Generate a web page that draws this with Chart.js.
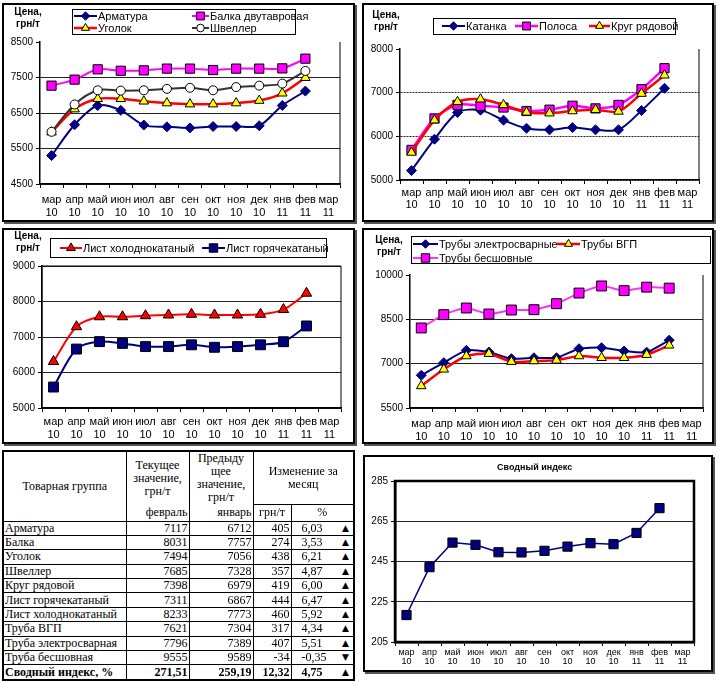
<!DOCTYPE html>
<html>
<head>
<meta charset="utf-8">
<script src="https://cdn.jsdelivr.net/npm/chart.js@4.4.0/dist/chart.umd.min.js"></script>
<style>
body { margin: 0; width: 720px; height: 683px; position: relative; background: #fff; overflow: hidden; font-family: Arial, "Liberation Sans", sans-serif; }
.frame { position: absolute; box-sizing: border-box; border: 2px solid #000; box-shadow: 2px 2px 0 #555; }
canvas { position: absolute; }
.unit { position: absolute; width: 44px; text-align: center; font-size: 10px; font-weight: bold; line-height: 12px; }
.title { position: absolute; font-size: 9px; font-weight: bold; }
#tbl { position: absolute; left: 2px; top: 450px; width: 353px; border-collapse: collapse; table-layout: fixed;
  font-family: "Liberation Serif", "Times New Roman", serif; font-size: 12px; border: 2px solid #000; }
#tbl td { border: 1px solid #000; padding: 0 1px; white-space: nowrap; line-height: 13px; overflow: hidden; }
#tbl td.c { text-align: center; }
#tbl td.r { text-align: right; }
#tbl td.nb { border-bottom: none; }
#tbl td.nt { border-top: none; }
#tbl tr.d td { height: 13.4px; }
#tbl tr.b td { font-weight: bold; }
.arr { float: right; font-size: 9px; padding-right: 3px; font-family: "DejaVu Sans", sans-serif; }
.pv { padding-left: 9px; }
</style>
</head>
<body>
<div class="frame" style="left:2px;top:3px;width:353px;height:219px"></div>
<div class="frame" style="left:362px;top:3px;width:352px;height:219px"></div>
<div class="frame" style="left:2px;top:228px;width:353px;height:216px"></div>
<div class="frame" style="left:362px;top:228px;width:352px;height:216px"></div>
<div class="frame" style="left:363px;top:455px;width:350px;height:217px"></div>

<canvas id="c1"></canvas>
<canvas id="c2"></canvas>
<canvas id="c3"></canvas>
<canvas id="c4"></canvas>
<canvas id="c6"></canvas>

<div class="unit" style="left:6px;top:6px">Цена,<br>грн/т</div>
<div class="unit" style="left:364px;top:9px">Цена,<br>грн/т</div>
<div class="unit" style="left:6px;top:230px">Цена,<br>грн/т</div>
<div class="unit" style="left:367px;top:234px">Цена,<br>грн/т</div>
<div class="title" style="left:497px;top:462px">Сводный индекс</div>

<table id="tbl">
  <colgroup><col style="width:123px"><col style="width:63px"><col style="width:64px"><col style="width:38px"><col style="width:63px"></colgroup>
  <tr style="height:52px">
    <td class="c" rowspan="2">Товарная группа</td>
    <td class="c nb">Текущее<br>значение,<br>грн/т</td>
    <td class="c nb">Предыду<br>щее<br>значение,<br>грн/т</td>
    <td class="c" colspan="2">Изменение за<br>месяц</td>
  </tr>
  <tr style="height:17px">
    <td class="r nt">февраль</td>
    <td class="r nt">январь</td>
    <td class="c">грн/т</td>
    <td class="c">%</td>
  </tr>
</table>

<script>
// Data

const months = [['мар', '10'], ['апр', '10'], ['май', '10'], ['июн', '10'], ['июл', '10'], ['авг', '10'],
    ['сен', '10'], ['окт', '10'], ['ноя', '10'], ['дек', '10'], ['янв', '11'], ['фев', '11'], ['мар', '11']];

const armatura = [5300, 6170, 6710, 6575, 6160, 6110, 6080, 6120, 6120, 6140, 6712, 7117];
const balka = [7270, 7440, 7730, 7690, 7700, 7750, 7750, 7710, 7750, 7750, 7757, 8031];
const ugolok = [5960, 6610, 6900, 6900, 6830, 6780, 6750, 6750, 6780, 6850, 7056, 7494];
const shveller = [5970, 6740, 7140, 7130, 7140, 7180, 7210, 7140, 7230, 7270, 7328, 7685];

const katanka = [5215, 5935, 6545, 6600, 6370, 6185, 6150, 6200, 6150, 6150, 6590, 7100];
const polosa = [5690, 6410, 6720, 6700, 6660, 6580, 6610, 6700, 6640, 6720, 7080, 7560];
const krug = [5630, 6370, 6790, 6850, 6720, 6550, 6530, 6580, 6610, 6570, 6979, 7398];

const listHolod = [6310, 7290, 7570, 7570, 7600, 7620, 7640, 7620, 7620, 7640, 7773, 8233];
const listGor = [5590, 6660, 6870, 6820, 6730, 6730, 6780, 6710, 6730, 6780, 6867, 7311];

const trubyElektro = [6606, 7034, 7450, 7394, 7169, 7200, 7200, 7506, 7540, 7428, 7389, 7796];
const trubyVgp = [6246, 6809, 7259, 7338, 7068, 7090, 7113, 7259, 7200, 7200, 7304, 7621];
const trubyBesh = [8208, 8658, 8883, 8680, 8815, 8826, 9029, 9389, 9629, 9471, 9589, 9555];

const indexVals = [218.4, 242.2, 254.4, 253.3, 249.6, 249.5, 250.3, 252.4, 254.1, 253.6, 259.19, 271.51];

const tableGroups = ['Арматура', 'Балка', 'Уголок', 'Швеллер', 'Круг рядовой', 'Лист горячекатаный',
    'Лист холоднокатаный', 'Труба ВГП', 'Труба электросварная', 'Труба бесшовная', 'Сводный индекс, %'];
const tableFeb = ['7117', '8031', '7494', '7685', '7398', '7311', '8233', '7621', '7796', '9555', '271,51'];
const tableJan = ['6712', '7757', '7056', '7328', '6979', '6867', '7773', '7304', '7389', '9589', '259,19'];
const tableDiff = ['405', '274', '438', '357', '419', '444', '460', '317', '407', '-34', '12,32'];
const tablePct = ['6,03', '3,53', '6,21', '4,87', '6,00', '6,47', '5,92', '4,34', '5,51', '-0,35', '4,75'];

// Table

const tbl = document.getElementById('tbl');
tableGroups.forEach((name, i) => {
    const tr = document.createElement('tr');
    tr.className = i === tableGroups.length - 1 ? 'd b' : 'd';
    const arrow = tablePct[i].startsWith('-') ? '▼' : '▲';
    tr.innerHTML = `<td>${name}</td><td class="r">${tableFeb[i]}</td><td class="r">${tableJan[i]}</td>` +
        `<td class="r">${tableDiff[i]}</td><td><span class="pv">${tablePct[i]}</span><span class="arr">${arrow}</span></td>`;
    tbl.appendChild(tr);
});

// Charts

const FONT = 'Arial, "Liberation Sans", sans-serif';
const NAVY = '#000080', MAG = '#FF00FF', RED = '#FF0000', YEL = '#FFFF00';

const ds = (label, data, color, width, style, bg, border, radius, tension) => ({
    label, data, borderColor: color, borderWidth: width, pointStyle: style, pointRadius: radius,
    pointBackgroundColor: bg, pointBorderColor: border, pointBorderWidth: 1, tension
});

function legendPlugin(g, box, items) {
    return {
        id: 'boxLegend',
        afterDraw(chart) {
            const ctx = chart.ctx;
            ctx.save();
            ctx.translate(-g.cx, -g.cy);
            ctx.fillStyle = '#fff';
            ctx.fillRect(box[0], box[1], box[2], box[3]);
            ctx.strokeStyle = '#000';
            ctx.lineWidth = 1;
            ctx.strokeRect(box[0] + 0.5, box[1] + 0.5, box[2], box[3]);
            ctx.font = '11px ' + FONT;
            ctx.textBaseline = 'middle';
            ctx.textAlign = 'left';
            items.forEach(it => {
                const d = chart.data.datasets.find(s => s.label === it.label);
                const [x, y, len] = it.at;
                ctx.strokeStyle = d.borderColor;
                ctx.lineWidth = d.borderWidth;
                ctx.beginPath();
                ctx.moveTo(x, y);
                ctx.lineTo(x + len, y);
                ctx.stroke();
                ctx.fillStyle = d.pointBackgroundColor;
                ctx.strokeStyle = d.pointBorderColor;
                ctx.lineWidth = 1;
                Chart.helpers.drawPoint(ctx, { pointStyle: d.pointStyle, radius: d.pointRadius * 0.85, borderWidth: 1, rotation: 0 }, x + len / 2, y);
                ctx.fillStyle = '#000';
                ctx.fillText(d.label, x + len + 1, y + 1);
            });
            ctx.restore();
        }
    };
}

function framePlugin(full, width) {
    return {
        id: 'plotFrame',
        beforeDatasetsDraw(chart) {
            const a = chart.chartArea, ctx = chart.ctx;
            ctx.save();
            ctx.strokeStyle = '#000';
            ctx.lineWidth = width;
            ctx.beginPath();
            if (full) {
                ctx.rect(a.left, a.top, a.right - a.left, a.bottom - a.top);
            } else {
                ctx.moveTo(a.right, a.top);
                ctx.lineTo(a.right, a.bottom);
            }
            ctx.stroke();
            ctx.restore();
        }
    };
}

function makeChart(id, g, datasets, y, plugins) {
    const el = document.getElementById(id);
    el.style.left = g.cx + 'px';
    el.style.top = g.cy + 'px';
    el.width = g.cw;
    el.height = g.ch;
    return new Chart(el, {
        type: 'line',
        data: { labels: months, datasets },
        options: {
            responsive: false,
            animation: false,
            events: [],
            layout: { padding: { left: 0, top: g.t - g.cy, right: g.cx + g.cw - g.r, bottom: 0 } },
            plugins: { legend: { display: false }, tooltip: { enabled: false } },
            scales: {
                x: {
                    offset: true,
                    grid: { offset: true, drawOnChartArea: false, drawTicks: true, tickLength: 4, color: '#000', tickColor: '#000' },
                    border: { color: '#000', width: g.bw },
                    ticks: { color: '#000', font: { family: FONT, size: g.xf, lineHeight: g.xlh }, padding: g.xp, maxRotation: 0, autoSkip: false },
                    afterFit: s => { s.height = g.cy + g.ch - g.b; }
                },
                y: {
                    min: y.min, max: y.max,
                    ticks: { stepSize: y.step, color: '#000', font: { family: FONT, size: 10 }, padding: 3, callback: v => String(v) },
                    grid: {
                        color: c => (c.tick && c.tick.value === y.max && !g.top) ? 'rgba(0,0,0,0)' : '#222',
                        tickColor: '#000', tickLength: 4, lineWidth: 1
                    },
                    border: { color: '#000', width: g.bw, dash: g.dash || [] },
                    afterFit: s => { s.width = g.l - g.cx; }
                }
            }
        },
        plugins
    });
}

// Panel 1
const g1 = { cx: 5, cy: 5, cw: 346, ch: 214, l: 40, t: 42, r: 340, b: 184, xf: 11, xlh: 1.15, xp: 6, bw: 1.5, top: false };
makeChart('c1', g1, [
    ds('Швеллер', shveller, '#333', 2, 'circle', '#fff', '#000', 4.5, 0.3),
    ds('Уголок', ugolok, RED, 2.5, 'triangle', YEL, '#000', 5.5, 0.3),
    ds('Арматура', armatura, NAVY, 2, 'rectRot', NAVY, NAVY, 5, 0.3),
    ds('Балка двутавровая', balka, MAG, 2, 'rect', MAG, '#000', 6.5, 0.3)
], { min: 4500, max: 8500, step: 1000 }, [
    framePlugin(false, 1),
    legendPlugin(g1, [72, 9, 223, 25], [
        { label: 'Арматура', at: [74, 16, 23] },
        { label: 'Уголок', at: [74, 28, 23] },
        { label: 'Балка двутавровая', at: [192, 16, 17] },
        { label: 'Швеллер', at: [192, 28, 17] }
    ])
]);

// Panel 2
const g2 = { cx: 365, cy: 5, cw: 346, ch: 214, l: 400, t: 49, r: 699, b: 180, xf: 11, xlh: 1.1, xp: 3, bw: 1.5, top: false, dash: [2, 1] };
makeChart('c2', g2, [
    ds('Круг рядовой', krug, RED, 2.5, 'triangle', YEL, '#000', 5.5, 0.3),
    ds('Полоса', polosa, MAG, 2.5, 'rect', MAG, '#000', 6.5, 0.3),
    ds('Катанка', katanka, NAVY, 2, 'rectRot', NAVY, NAVY, 5, 0.3)
], { min: 5000, max: 8000, step: 1000 }, [
    framePlugin(false, 1),
    legendPlugin(g2, [433, 18, 242, 16], [
        { label: 'Катанка', at: [442, 26, 23] },
        { label: 'Полоса', at: [515, 26, 23] },
        { label: 'Круг рядовой', at: [589, 26, 21] }
    ])
]);

// Panel 3
const g3 = { cx: 5, cy: 231, cw: 346, ch: 210, l: 42, t: 266, r: 341, b: 408, xf: 11, xlh: 1.15, xp: 4, bw: 1.5, top: true };
makeChart('c3', g3, [
    ds('Лист холоднокатаный', listHolod, RED, 2, 'triangle', RED, '#000', 6, 0.3),
    ds('Лист горячекатаный', listGor, NAVY, 2, 'rect', NAVY, '#000', 7, 0.3)
], { min: 5000, max: 9000, step: 1000 }, [
    framePlugin(true, 1),
    legendPlugin(g3, [50, 238, 276, 19], [
        { label: 'Лист холоднокатаный', at: [60, 248, 22] },
        { label: 'Лист горячекатаный', at: [202, 248, 23] }
    ])
]);

// Panel 4
const g4 = { cx: 365, cy: 231, cw: 346, ch: 210, l: 410, t: 275, r: 703, b: 408, xf: 11, xlh: 1.15, xp: 5.5, bw: 1.5, top: false };
makeChart('c4', g4, [
    ds('Трубы ВГП', trubyVgp, RED, 2.5, 'triangle', YEL, '#000', 5.5, 0.25),
    ds('Трубы электросварные', trubyElektro, NAVY, 2, 'rectRot', NAVY, NAVY, 5, 0.2),
    ds('Трубы бесшовные', trubyBesh, '#FF33FF', 2, 'rect', MAG, '#000', 7, 0.2)
], { min: 5500, max: 10000, step: 1500 }, [
    framePlugin(false, 1),
    legendPlugin(g4, [411, 236, 299, 27], [
        { label: 'Трубы электросварные', at: [413, 244, 25] },
        { label: 'Трубы ВГП', at: [557, 244, 23] },
        { label: 'Трубы бесшовные', at: [413, 258, 25] }
    ])
]);

// Panel 6
const g6 = { cx: 366, cy: 458, cw: 344, ch: 211, l: 395, t: 481, r: 694, b: 642, xf: 9, xlh: 1.0, xp: 2.5, bw: 2.5, top: true };
makeChart('c6', g6, [
    ds('Сводный индекс', indexVals, NAVY, 1.5, 'rect', NAVY, '#000', 6.5, 0)
], { min: 205, max: 285, step: 20 }, [
    framePlugin(true, 2.5)
]);
</script>
</body>
</html>
